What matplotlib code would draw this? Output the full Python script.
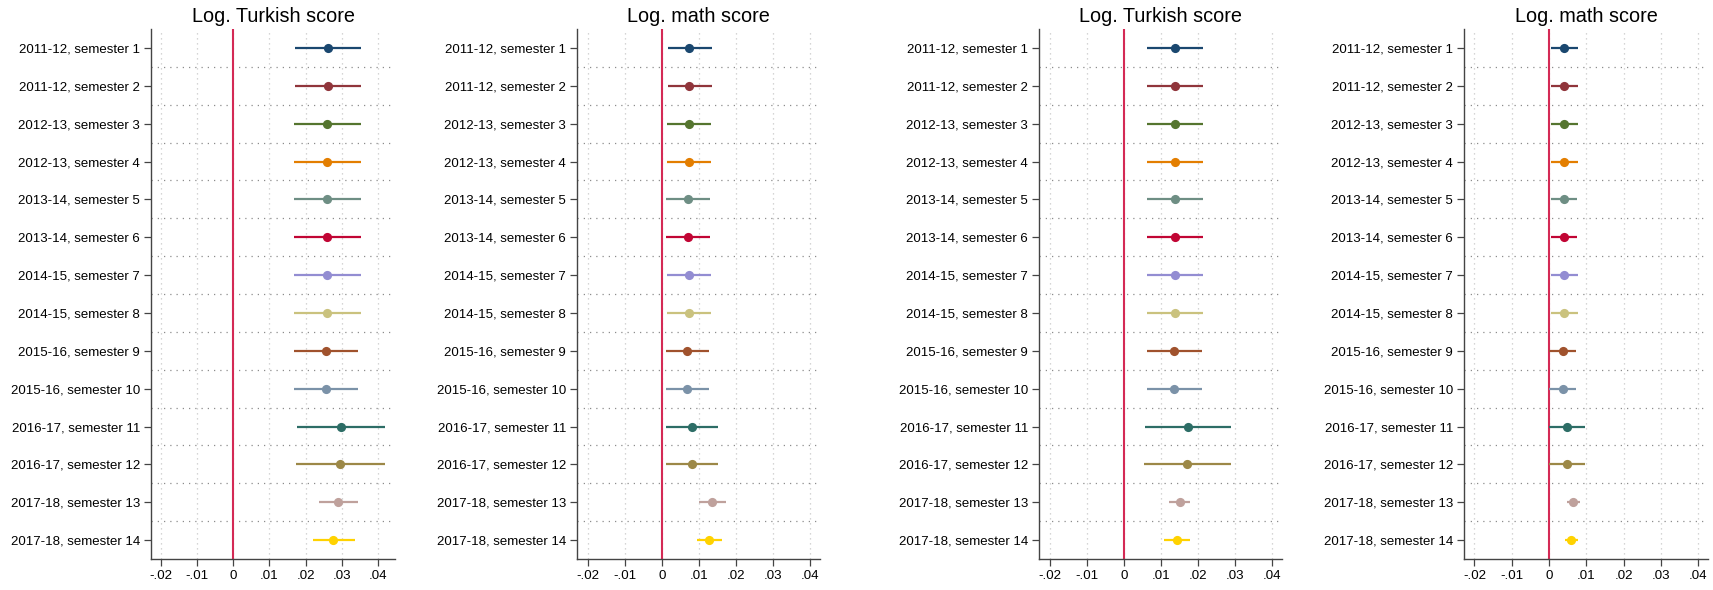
import matplotlib
matplotlib.use("Agg")
import matplotlib.pyplot as plt
from matplotlib.ticker import FixedLocator

plt.rcParams['font.family'] = ['Liberation Sans', 'DejaVu Sans']

labels = [
    "2011-12, semester 1", "2011-12, semester 2", "2012-13, semester 3",
    "2012-13, semester 4", "2013-14, semester 5", "2013-14, semester 6",
    "2014-15, semester 7", "2014-15, semester 8", "2015-16, semester 9",
    "2015-16, semester 10", "2016-17, semester 11", "2016-17, semester 12",
    "2017-18, semester 13", "2017-18, semester 14",
]

# Stata s2color palette, one colour per semester
colors = ["#1a476f", "#90353b", "#55752f", "#e37e00", "#6e8e84", "#c10534",
          "#938dd2", "#cac27e", "#a0522d", "#7b92a8", "#2d6d66", "#9c8847",
          "#bfa19c", "#ffd200"]

titles = ["Log. Turkish score", "Log. math score",
          "Log. Turkish score", "Log. math score"]

# panel 1: Turkish, first specification
turk1_b = [.0262, .0262, .0260, .0260, .0260, .0260, .0260, .0260, .0256, .0256, .0299, .0296, .0290, .0277]
turk1_lo = [.0170, .0170, .0167, .0167, .0168, .0168, .0168, .0167, .0167, .0167, .0177, .0173, .0238, .0220]
turk1_hi = [.0354, .0354, .0352, .0352, .0352, .0352, .0352, .0352, .0345, .0345, .0420, .0420, .0345, .0337]

# panel 2: math, first specification
math1_b = [.0074, .0074, .0074, .0074, .0070, .0070, .0074, .0074, .0068, .0068, .0081, .0081, .0136, .0128]
math1_lo = [.0015, .0015, .0014, .0014, .0012, .0012, .0014, .0014, .0010, .0010, .0012, .0012, .0099, .0095]
math1_hi = [.0134, .0134, .0133, .0133, .0129, .0129, .0133, .0133, .0126, .0126, .0151, .0152, .0173, .0161]

# panel 3: Turkish, second specification
turk2_b = [.0137, .0137, .0137, .0137, .0137, .0137, .0137, .0137, .0134, .0134, .0173, .0171, .0150, .0143]
turk2_lo = [.0061, .0061, .0061, .0061, .0061, .0061, .0061, .0061, .0061, .0061, .0056, .0054, .0121, .0109]
turk2_hi = [.0214, .0214, .0213, .0213, .0212, .0212, .0212, .0212, .0210, .0210, .0289, .0289, .0179, .0178]

# panel 4: math, second specification
math2_b = [.0040, .0040, .0040, .0040, .0039, .0039, .0040, .0040, .0037, .0037, .0048, .0048, .0064, .0060]
math2_lo = [.0004, .0004, .0004, .0004, .0004, .0004, .0004, .0004, .0001, .0001, .0001, .0001, .0047, .0043]
math2_hi = [.0078, .0078, .0078, .0078, .0075, .0075, .0078, .0078, .0073, .0073, .0095, .0095, .0083, .0078]

panels = [(turk1_b, turk1_lo, turk1_hi), (math1_b, math1_lo, math1_hi),
          (turk2_b, turk2_lo, turk2_hi), (math2_b, math2_lo, math2_hi)]

xticks = [-.02, -.01, 0, .01, .02, .03, .04]
xticklabels = ["-.02", "-.01", "0", ".01", ".02", ".03", ".04"]

W, H = 1713, 590
fig = plt.figure(figsize=(W / 100, H / 100), dpi=100)

# axes boxes in pixels: left, right, and x-limits
boxes = [(151, 395, -0.0227, 0.0447), (577, 820, -0.0229, 0.0426),
         (1039, 1282, -0.0229, 0.0426), (1464, 1708, -0.0228, 0.0426)]
top, bottom = 29, 559

ypos = list(range(1, len(labels) + 1))

for (b, lo, hi), (l, r, x0, x1), title in zip(panels, boxes, titles):
    ax = fig.add_axes([l / W, (H - bottom) / H, (r - l) / W, (bottom - top) / H])
    ax.set_xlim(x0, x1)
    ax.set_ylim(14.5, 0.5)

    ax.set_xticks(xticks)
    ax.set_xticklabels(xticklabels, fontsize=9.6)
    ax.set_yticks(ypos)
    ax.set_yticklabels(labels, fontsize=9.5)
    ax.yaxis.set_minor_locator(FixedLocator([i + 0.5 for i in range(1, 14)]))

    ax.grid(axis='x', which='major', color='#c8c8c8', linestyle=(0, (1, 3)), linewidth=0.9)
    ax.grid(axis='y', which='minor', color='#8c8c8c', linestyle=(0, (1, 4)), linewidth=0.9)
    ax.tick_params(axis='y', which='minor', length=0)
    ax.tick_params(axis='both', which='major', length=5, width=0.9, color='#444444',
                   direction='out', pad=3)

    for s in ['top', 'right']:
        ax.spines[s].set_visible(False)
    for s in ['left', 'bottom']:
        ax.spines[s].set_color('#444444')
        ax.spines[s].set_linewidth(1.0)

    ax.axvline(0, color='#d42a55', linewidth=1.5, zorder=2)

    for i in range(len(labels)):
        ax.plot([lo[i], hi[i]], [ypos[i], ypos[i]], color=colors[i],
                linewidth=1.6, solid_capstyle='butt', zorder=3)
        ax.plot(b[i], ypos[i], 'o', color=colors[i], markersize=6.6,
                markeredgewidth=0, zorder=4)

    ax.set_title(title, fontsize=14.3, pad=5)

fig.savefig("out.png", dpi=100)
